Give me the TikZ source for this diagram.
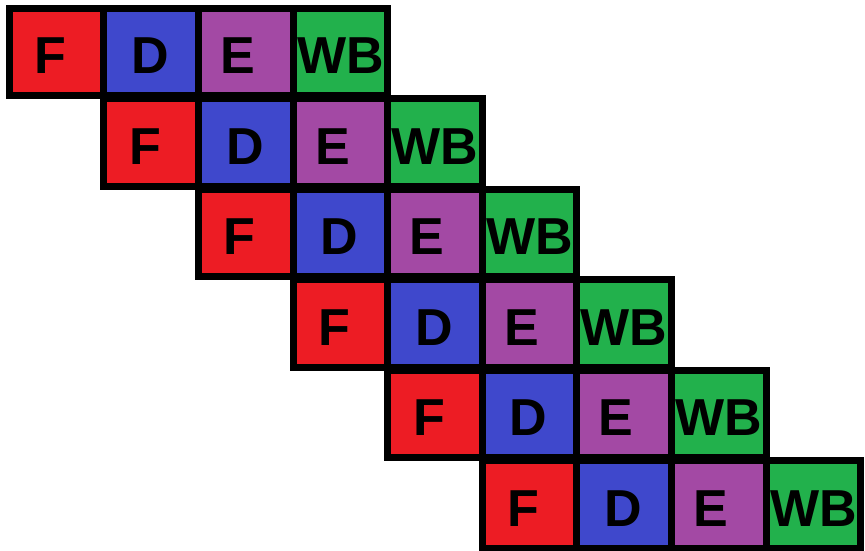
\documentclass[tikz,border=0pt]{standalone}
\usepackage{fontspec}
\setmainfont{Liberation Sans}
\definecolor{cF}{HTML}{ED1C24}
\definecolor{cD}{HTML}{3F48CC}
\definecolor{cE}{HTML}{A349A4}
\definecolor{cW}{HTML}{22B14C}
\tikzset{
  cell/.style={draw=black, line width=7pt, minimum width=94.6pt, minimum height=87.5pt, inner sep=0pt, outer sep=0pt, line join=miter},
  lab/.style={inner sep=0pt, anchor=base, font=\fontsize{52}{52}\selectfont\bfseries}
}
\begin{document}
\begin{tikzpicture}[x=1pt,y=-1pt]
\useasboundingbox (0,0) rectangle (865,551);
\foreach \i in {0,...,5} {
  \foreach \lab/\col/\dx [count=\j from 0] in {F/cF/-6, D/cD/-1, E/cE/-8, WB/cW/0} {
    \pgfmathsetmacro\cx{56.6+94.6*(\i+\j)}
    \pgfmathsetmacro\cy{51.95+90.5*\i}
    \node[cell, fill=\col] (c-\i-\j) at (\cx,\cy) {};
    \node[lab] (t-\i-\j) at ([xshift=\dx pt, yshift=-21.75pt]c-\i-\j.center) {\lab};
  }
}
\end{tikzpicture}
\end{document}
